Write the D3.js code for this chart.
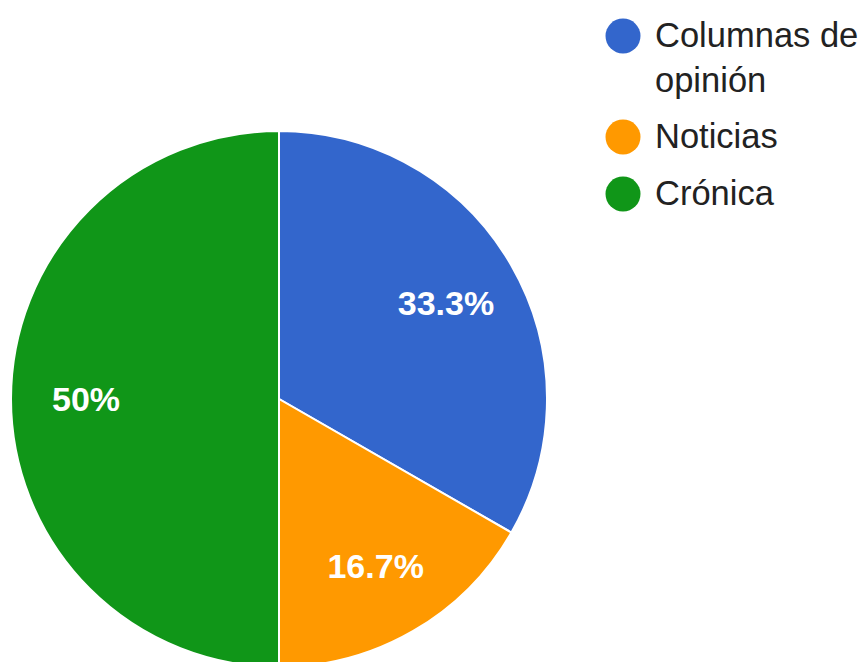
<!DOCTYPE html>
<html><head><meta charset="utf-8">
<script src="https://cdn.jsdelivr.net/npm/d3@7/dist/d3.min.js"></script>
<style>html,body{margin:0;padding:0;background:#fff;overflow:hidden}</style>
</head><body>
<svg id="chart" width="863" height="662"></svg>
<script>
const categories = ["Columnas de opinión", "Noticias", "Crónica"];
const legendLines = [["Columnas de", "opinión"], ["Noticias"], ["Crónica"]];
const values = [33.3, 16.7, 50];
const labels = ["33.3%", "16.7%", "50%"];
const colors = ["#3366cc", "#ff9900", "#109618"];

const svg = d3.select("#chart");
const font = "'Liberation Sans', Arial, sans-serif";
const cx = 279, cy = 399, r = 268;

const pie = d3.pie().sort(null).value(d => d);
const arcs = pie(values);
const arc = d3.arc().innerRadius(0).outerRadius(r);
const labelArc = d3.arc().innerRadius(r * 0.72).outerRadius(r * 0.72);

const g = svg.append("g").attr("transform", `translate(${cx},${cy})`);
g.selectAll("path").data(arcs).join("path")
  .attr("d", arc)
  .attr("fill", (d, i) => colors[i])
  .attr("stroke", "#fff")
  .attr("stroke-width", 2);

g.selectAll("text").data(arcs).join("text")
  .attr("transform", d => `translate(${labelArc.centroid(d)})`)
  .attr("text-anchor", "middle")
  .attr("dy", "0.36em")
  .attr("font-family", font)
  .attr("font-size", 34)
  .attr("font-weight", "bold")
  .attr("fill", "#fff")
  .text((d, i) => labels[i]);

// legend
const legendY = [36, 137, 194];
const lg = svg.append("g");
categories.forEach((c, i) => {
  lg.append("circle").attr("cx", 623).attr("cy", legendY[i]).attr("r", 17.5).attr("fill", colors[i]);
  const t = lg.append("text")
    .attr("x", 655).attr("y", legendY[i] + 11)
    .attr("font-family", font).attr("font-size", 34.5).attr("fill", "#222");
  legendLines[i].forEach((ln, j) => {
    t.append("tspan").attr("x", 655).attr("dy", j === 0 ? 0 : 45).text(ln);
  });
});
</script>
</body></html>
